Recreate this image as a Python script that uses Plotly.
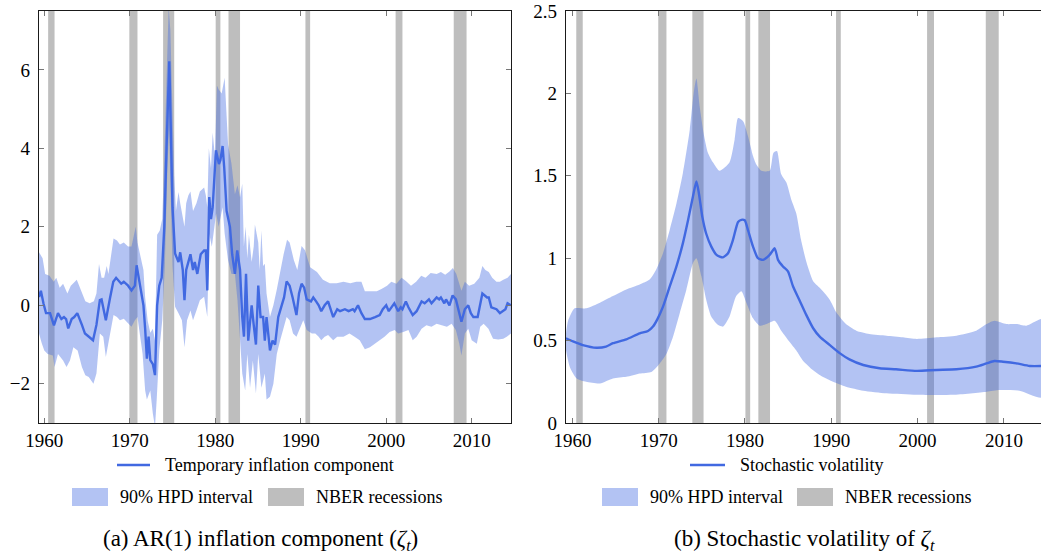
import plotly.graph_objects as go

# ---------------- data ----------------
REC_START = [1960.45, 1969.95, 1973.9, 1980.05, 1981.55, 1990.55, 2001.1, 2007.9]
REC_END = [1961.2, 1970.9, 1975.2, 1980.6, 1982.9, 1991.1, 2001.9, 2009.4]

# Panel (a): temporary inflation component (posterior median)
ZETA_X = [1959.38, 1959.6, 1959.9, 1960.2, 1960.67, 1961.13, 1961.6, 1962.0, 1962.3, 1962.55,
          1962.8, 1963.2, 1963.5, 1963.86, 1964.4, 1964.76, 1965.15, 1965.7, 1966.1, 1966.5,
          1966.7, 1967.2, 1967.7, 1968.07, 1968.4, 1968.85, 1969.0, 1969.3, 1969.8, 1970.2,
          1970.6, 1970.8, 1971.2, 1971.6, 1971.8, 1972.0, 1972.2, 1972.4, 1972.7, 1972.95,
          1973.2, 1973.45, 1973.73, 1974.04, 1974.3, 1974.62, 1974.8, 1975.0, 1975.3, 1975.7,
          1975.9, 1976.2, 1976.4, 1976.6, 1976.85, 1977.1, 1977.4, 1977.6, 1977.9, 1978.3,
          1978.7, 1978.9, 1979.07, 1979.3, 1979.5, 1979.7, 1980.08, 1980.43, 1980.6, 1980.86,
          1981.05, 1981.33, 1981.72, 1981.98, 1982.3, 1982.57, 1982.9, 1983.16, 1983.36, 1983.6,
          1983.86, 1984.05, 1984.26, 1984.5, 1984.76, 1985.03, 1985.3, 1985.6, 1985.8, 1986.0,
          1986.4, 1986.7, 1987.0, 1987.37, 1987.9, 1988.05, 1988.35, 1988.7, 1989.05, 1989.5,
          1989.8, 1990.1, 1990.4, 1990.7, 1991.2, 1991.47, 1991.8, 1992.1, 1992.4, 1992.8,
          1993.2, 1993.8, 1994.27, 1994.6, 1995.17, 1995.6, 1996.1, 1996.3, 1996.7, 1997.1,
          1997.5, 1998.1, 1998.7, 1999.24, 1999.6, 2000.0, 2000.3, 2000.6, 2000.95, 2001.4,
          2001.7, 2001.9, 2002.3, 2002.6, 2003.1, 2003.56, 2004.14, 2004.5, 2005.0, 2005.3,
          2005.9, 2006.2, 2006.4, 2006.8, 2007.0, 2007.4, 2007.77, 2008.15, 2008.5, 2008.8,
          2009.2, 2009.6, 2009.9, 2010.2, 2010.7, 2010.98, 2011.25, 2011.8, 2012.0, 2012.3,
          2012.9, 2013.3, 2013.6, 2013.95, 2014.2, 2014.6]
ZETA_Y = [0.21, 0.37, 0.05, -0.2, -0.2, -0.51, -0.2, -0.35, -0.3, -0.35,
          -0.59, -0.35, -0.3, -0.2, -0.5, -0.72, -0.79, -0.89, -0.5, 0.13,
          0.15, -0.38, 0.2, 0.6, 0.7, 0.6, 0.55, 0.6, 0.5, 0.38,
          0.5, 1.02, 0.5, 0.0, -0.6, -1.36, -0.8, -1.4, -1.5, -1.78,
          0.0, 0.5, 0.7, 2.0, 4.0, 6.22, 4.5, 2.5, 1.32, 1.1,
          1.35, 0.9, 0.13, 0.9, 1.1, 1.3, 0.9, 1.1, 0.8, 1.3,
          1.4, 1.4, 0.38, 2.76, 2.2, 2.5, 3.95, 3.6, 3.7, 4.06,
          3.5, 2.4, 2.0, 1.3, 0.8, 1.4, 0.9, -0.3, -0.8, 0.8,
          -0.9, -0.5, 0.0, -0.5, -1.0, 0.5, -0.3, -0.3, -0.9, -0.3,
          -1.15, -0.9, -1.0, -0.3, 0.1, 0.2, 0.61, 0.5, 0.2, -0.25,
          0.3, 0.55, 0.45, 0.15, 0.1, 0.2, 0.1, 0.0, -0.15, 0.0,
          0.1, -0.3, -0.1, -0.15, -0.1, -0.15, -0.1, -0.15, 0.0, -0.2,
          -0.35, -0.35, -0.3, -0.25, -0.1, 0.0, -0.15, -0.05, 0.05, -0.15,
          -0.05, -0.1, 0.1, -0.05, -0.25, -0.15, 0.1, 0.05, 0.15, 0.05,
          0.2, 0.15, 0.2, 0.05, 0.15, 0.0, 0.25, 0.15, -0.15, -0.42,
          -0.1, 0.0, -0.2, -0.3, -0.3, 0.0, 0.3, 0.2, 0.2, -0.05,
          -0.1, -0.2, -0.15, -0.1, 0.05, 0.0]

ZETA_HI_X = [1959.38, 1959.8, 1960.1, 1960.6, 1961.1, 1961.4, 1961.8, 1962.2, 1962.7, 1963.1,
             1963.8, 1964.3, 1964.8, 1965.3, 1965.8, 1966.1, 1966.4, 1966.7, 1967.0, 1967.3,
             1967.5, 1968.1, 1968.5, 1968.85, 1969.3, 1969.8, 1970.2, 1970.7, 1970.9, 1971.3,
             1971.6, 1971.8, 1972.1, 1972.4, 1972.7, 1972.95, 1973.2, 1973.5, 1973.8, 1974.0,
             1974.3, 1974.55, 1974.75, 1974.95, 1975.2, 1975.4, 1975.7, 1975.9, 1976.2, 1976.4,
             1976.6, 1976.85, 1977.1, 1977.4, 1977.8, 1978.2, 1978.7, 1978.9, 1979.07, 1979.25,
             1979.5, 1979.7, 1979.96, 1980.2, 1980.4, 1980.75, 1981.1, 1981.5, 1981.9, 1982.3,
             1982.6, 1982.9, 1983.16, 1983.35, 1983.55, 1983.75, 1983.94, 1984.26, 1984.5, 1984.64,
             1985.03, 1985.2, 1985.4, 1985.6, 1985.8, 1986.0, 1986.4, 1986.8, 1987.2, 1987.6,
             1988.0, 1988.4, 1988.7, 1989.2, 1989.6, 1990.1, 1990.5, 1991.1, 1991.9, 1992.6,
             1993.4, 1994.2, 1995.0, 1995.8, 1996.5, 1997.1, 1997.5, 1998.1, 1998.9, 1999.5,
             2000.1, 2000.6, 2001.2, 2001.8, 2002.3, 2002.9, 2003.5, 2004.1, 2004.6, 2005.2,
             2005.9, 2006.4, 2006.9, 2007.4, 2007.8, 2008.2, 2008.5, 2008.8, 2009.2, 2009.7,
             2010.3, 2010.9, 2011.25, 2011.6, 2012.0, 2012.4, 2012.9, 2013.3, 2013.7, 2014.2,
             2014.6]
ZETA_HI_Y = [1.35, 1.2, 0.8, 0.75, 0.6, 0.7, 0.45, 0.55, 0.3, 0.5,
             0.65, 0.35, 0.1, 0.05, 0.1, 0.3, 1.05, 0.7, 0.7, 1.0,
             0.8, 1.7, 1.65, 1.55, 1.6, 1.5, 1.5, 2.0, 1.6, 1.2,
             0.9, 0.2, -0.4, -0.7, -0.6, -0.9, 1.8, 1.9, 2.2, 3.5,
             5.5, 7.6, 7.0, 5.0, 3.3, 2.4, 2.89, 2.6, 2.2, 2.0,
             2.6, 2.8, 2.9, 2.4, 2.6, 2.9, 3.0, 2.8, 2.5, 4.0,
             3.5, 4.4, 3.8, 5.6, 5.5, 5.4, 5.8, 4.1, 3.6, 2.83,
             3.06, 2.75, 3.1, 1.5, 2.0, 1.2, 1.8, 1.1, 1.5, 2.06,
             1.6, 0.9, 1.9, 1.0, 1.06, 0.3, -0.3, 0.0, 0.4, 0.9,
             1.3, 1.67, 1.6, 1.15, 0.9, 1.51, 1.4, 0.97, 0.85, 0.65,
             0.56, 0.56, 0.6, 0.56, 0.6, 0.6, 0.36, 0.36, 0.36, 0.42,
             0.5, 0.6, 0.55, 0.7, 0.62, 0.5, 0.6, 0.75, 0.7, 0.82,
             0.8, 0.85, 0.78, 0.86, 0.95, 0.8, 0.6, 0.37, 0.6, 0.5,
             0.55, 0.7, 1.0, 0.9, 0.85, 0.7, 0.6, 0.6, 0.65, 0.7,
             0.8]

ZETA_LO_X = [1959.38, 1959.7, 1960.0, 1960.4, 1961.0, 1961.2, 1961.6, 1962.2, 1962.6, 1963.0,
             1963.4, 1963.9, 1964.4, 1964.8, 1965.2, 1965.75, 1966.1, 1966.5, 1966.9, 1967.2,
             1967.7, 1968.1, 1968.5, 1968.85, 1969.3, 1969.8, 1970.2, 1970.6, 1970.9, 1971.2,
             1971.5, 1971.8, 1972.0, 1972.4, 1972.7, 1972.95, 1973.15, 1973.45, 1973.8, 1974.1,
             1974.4, 1974.6, 1974.8, 1975.0, 1975.3, 1975.7, 1976.1, 1976.4, 1976.7, 1977.1,
             1977.4, 1977.8, 1978.2, 1978.7, 1979.07, 1979.3, 1979.6, 1980.1, 1980.4, 1980.86,
             1981.1, 1981.5, 1981.9, 1982.3, 1982.6, 1982.9, 1983.16, 1983.5, 1983.75, 1984.07,
             1984.4, 1984.76, 1985.03, 1985.4, 1985.8, 1986.0, 1986.4, 1986.8, 1987.2, 1987.6,
             1988.0, 1988.35, 1988.7, 1989.1, 1989.5, 1989.9, 1990.3, 1990.7, 1991.3, 1991.7,
             1992.1, 1992.4, 1992.8, 1993.2, 1993.8, 1994.27, 1995.0, 1995.7, 1996.3, 1996.9,
             1997.5, 1998.1, 1998.7, 1999.24, 1999.8, 2000.4, 2001.0, 2001.4, 2002.0, 2002.6,
             2003.1, 2003.56, 2004.14, 2004.7, 2005.3, 2005.9, 2006.5, 2007.1, 2007.65, 2008.15,
             2008.55, 2008.8, 2009.2, 2009.6, 2010.0, 2010.6, 2011.0, 2011.4, 2011.96, 2012.5,
             2013.1, 2013.7, 2014.1, 2014.6]
ZETA_LO_Y = [-0.72, -0.97, -1.15, -1.24, -1.28, -1.57, -1.24, -1.41, -1.57, -1.41,
             -1.07, -1.15, -1.57, -1.78, -1.83, -2.0, -1.74, -0.72, -0.8, -1.32,
             -0.72, -0.25, -0.3, -0.38, -0.34, -0.46, -0.55, -0.38, -0.3, -0.72,
             -1.24, -2.17, -2.4, -2.17, -2.76, -3.1, -2.4, -1.15, -0.38, 1.0,
             3.5, 4.5, 2.7, 1.0, -0.04, -0.2, -0.38, -1.07, -0.38, -0.13,
             -0.38, -0.13, 0.13, 0.22, -0.3, 1.83, 1.49, 2.34, 2.0, 2.5,
             1.83, 1.15, 0.8, 0.8, 0.13, -0.89, -1.74, -2.17, -1.24, -2.1,
             -1.41, -2.25, -1.24, -2.1, -1.74, -2.4, -2.33, -2.0, -1.24, -0.89,
             -0.55, -0.3, -0.38, -0.72, -0.8, -0.6, -0.38, -0.63, -0.72, -0.72,
             -0.8, -0.89, -0.8, -0.76, -0.89, -0.8, -0.8, -0.72, -0.8, -0.89,
             -1.12, -1.07, -0.98, -0.89, -0.8, -0.68, -0.63, -0.72, -0.68, -0.63,
             -0.89, -0.8, -0.6, -0.51, -0.55, -0.47, -0.51, -0.55, -0.47, -0.63,
             -0.98, -1.28, -0.72, -0.6, -0.89, -0.98, -0.55, -0.47, -0.6, -0.85,
             -0.87, -0.85, -0.8, -0.72]

# Panel (b): stochastic volatility of zeta
SV_X = [1959.26, 1960.07, 1961.2, 1962.8, 1963.9, 1964.7, 1966.25, 1967.8, 1968.76, 1969.34,
        1969.9, 1970.5, 1971.27, 1972.05, 1972.8, 1973.4, 1973.97, 1974.37, 1974.67, 1975.06,
        1975.5, 1976.1, 1976.7, 1977.45, 1978.03, 1978.6, 1979.2, 1979.58, 1979.97, 1980.35,
        1980.93, 1981.5, 1982.1, 1982.86, 1983.44, 1983.83, 1984.4, 1984.98, 1985.56, 1986.3,
        1987.1, 1987.9, 1988.66, 1989.8, 1990.97, 1992.1, 1993.7, 1995.6, 1997.5, 1999.9,
        2002.2, 2004.5, 2006.8, 2008.0, 2008.9, 2009.9, 2011.45, 2013.0, 2014.5]
SV_Y = [0.514, 0.495, 0.473, 0.457, 0.464, 0.484, 0.508, 0.544, 0.558, 0.585,
        0.635, 0.706, 0.827, 0.949, 1.09, 1.23, 1.374, 1.465, 1.39, 1.25,
        1.15, 1.07, 1.02, 1.005, 1.03, 1.11, 1.22, 1.233, 1.23, 1.17,
        1.07, 1.0, 0.99, 1.02, 1.06, 0.99, 0.95, 0.92, 0.83, 0.747,
        0.656, 0.575, 0.524, 0.474, 0.424, 0.386, 0.352, 0.332, 0.326, 0.316,
        0.322, 0.326, 0.342, 0.362, 0.376, 0.372, 0.362, 0.346, 0.346]

SV_HI_X = [1959.26, 1959.5, 1960.26, 1961.6, 1963.2, 1964.7, 1966.25, 1967.8, 1968.95, 1969.7,
           1970.5, 1971.27, 1972.05, 1972.8, 1973.6, 1974.05, 1974.37, 1974.75, 1975.2, 1975.7,
           1976.3, 1977.05, 1978.2, 1978.8, 1979.2, 1979.8, 1980.35, 1980.93, 1981.3, 1981.9,
           1982.86, 1983.3, 1983.7, 1984.2, 1984.8, 1985.4, 1985.95, 1986.5, 1987.1, 1987.9,
           1988.66, 1989.8, 1990.6, 1991.7, 1992.9, 1994.4, 1996.4, 1998.3, 1999.9, 2002.2,
           2004.5, 2006.8, 2008.0, 2008.9, 2010.3, 2011.45, 2012.6, 2014.5]
SV_HI_Y = [0.545, 0.62, 0.696, 0.696, 0.73, 0.77, 0.81, 0.84, 0.87, 0.93,
           1.03, 1.17, 1.33, 1.515, 1.78, 2.0, 2.09, 1.92, 1.76, 1.64,
           1.58, 1.53, 1.58, 1.72, 1.85, 1.83, 1.74, 1.62, 1.57, 1.53,
           1.53, 1.64, 1.65, 1.51, 1.46, 1.35, 1.27, 1.11, 0.98, 0.86,
           0.82, 0.75, 0.67, 0.6, 0.56, 0.54, 0.53, 0.52, 0.51, 0.52,
           0.53, 0.56, 0.6, 0.62, 0.6, 0.6, 0.59, 0.63]

SV_LO_X = [1959.26, 1959.7, 1960.5, 1961.6, 1963.2, 1964.7, 1966.25, 1967.8, 1969.15, 1970.1,
           1970.9, 1971.66, 1972.43, 1973.2, 1973.97, 1974.37, 1974.95, 1975.5, 1976.1, 1976.9,
           1977.45, 1978.2, 1978.98, 1979.58, 1980.16, 1980.93, 1981.7, 1982.5, 1983.44, 1984.2,
           1985.2, 1985.95, 1986.7, 1987.9, 1989.0, 1990.2, 1991.7, 1993.7, 1996.4, 1999.9,
           2004.1, 2008.0, 2009.5, 2011.8, 2014.5]
SV_LO_Y = [0.44, 0.34, 0.27, 0.25, 0.24, 0.27, 0.28, 0.3, 0.31, 0.36,
           0.42, 0.524, 0.665, 0.807, 0.97, 1.0, 0.89, 0.75, 0.645, 0.594,
           0.585, 0.645, 0.77, 0.8, 0.73, 0.635, 0.59, 0.6, 0.62, 0.56,
           0.49, 0.44, 0.38, 0.32, 0.28, 0.25, 0.22, 0.196, 0.18, 0.171,
           0.171, 0.19, 0.2, 0.196, 0.155]

X_TICKS = [1960, 1970, 1980, 1990, 2000, 2010]
Y_TICKS_A = [-2, 0, 2, 4, 6]
Y_TICKS_B = [0, 0.5, 1, 1.5, 2, 2.5]

# ---------------- styling ----------------
W, H = 1041, 556
FONT = "Liberation Serif, Times New Roman, Tinos, DejaVu Serif, serif"
BLUE = "rgb(65,105,225)"
BAND = "rgba(65,105,225,0.4)"
GRAY = "rgb(190,190,190)"


def px(x):
    return x / W


def py(y):
    return 1 - y / H


fig = go.Figure()

panels = [
    dict(xa="x", ya="y", xr=[1959.38, 2014.6], yr=[-3, 7.5],
         lx=ZETA_X, ly=ZETA_Y, hx=ZETA_HI_X, hy=ZETA_HI_Y, bx=ZETA_LO_X, by=ZETA_LO_Y,
         shape="linear"),
    dict(xa="x2", ya="y2", xr=[1959.26, 2014.3], yr=[0, 2.5],
         lx=SV_X, ly=SV_Y, hx=SV_HI_X, hy=SV_HI_Y, bx=SV_LO_X, by=SV_LO_Y,
         shape="spline"),
]

shapes = []
for p in panels:
    # NBER recession bands (below the traces)
    for s, e in zip(REC_START, REC_END):
        shapes.append(dict(type="rect", xref=p["xa"], yref=p["ya"] + " domain",
                           x0=s, x1=e, y0=0, y1=1, fillcolor=GRAY,
                           line=dict(width=0), layer="below"))
    # 90% HPD band
    fig.add_trace(go.Scatter(
        x=p["hx"] + p["bx"][::-1], y=p["hy"] + p["by"][::-1],
        xaxis=p["xa"], yaxis=p["ya"], mode="lines", fill="toself",
        fillcolor=BAND, line=dict(width=0, shape=p["shape"], smoothing=0.6),
        hoverinfo="skip", showlegend=False))
    # posterior median line
    fig.add_trace(go.Scatter(
        x=p["lx"], y=p["ly"], xaxis=p["xa"], yaxis=p["ya"], mode="lines",
        line=dict(color=BLUE, width=2.4, shape=p["shape"], smoothing=0.6),
        showlegend=False))

axis_common = dict(showgrid=False, zeroline=False, showline=True, linecolor="#1a1a1a",
                   linewidth=1.3, ticks="inside", ticklen=5, tickwidth=1, tickcolor="#777",
                   tickfont=dict(family=FONT, size=19, color="black"), automargin=False)

fig.update_layout(
    template="none",
    width=W, height=H, margin=dict(l=0, r=0, t=0, b=0, pad=0),
    paper_bgcolor="white", plot_bgcolor="white",
    font=dict(family=FONT, color="black"),
    xaxis=dict(domain=[px(39), px(511)], range=panels[0]["xr"], tickvals=X_TICKS,
               anchor="y", mirror="allticks", **axis_common),
    yaxis=dict(domain=[py(423), py(11)], range=panels[0]["yr"], tickvals=Y_TICKS_A,
               anchor="x", mirror="allticks", ticklabelstandoff=4, **axis_common),
    xaxis2=dict(domain=[px(566), 1.0], range=panels[1]["xr"], tickvals=X_TICKS,
                anchor="y2", mirror="allticks", **axis_common),
    yaxis2=dict(domain=[py(423), py(11)], range=panels[1]["yr"], tickvals=Y_TICKS_B,
                anchor="x2", ticklabelstandoff=4, **axis_common),
    yaxis3=dict(overlaying="y2", anchor="x2", side="right", range=panels[1]["yr"],
                tickvals=Y_TICKS_B, showticklabels=False, showgrid=False, zeroline=False,
                showline=False, ticks="inside", ticklen=5, tickwidth=1, tickcolor="#777",
                automargin=False),
    showlegend=False,
)

# ---------------- hand-drawn legends and captions ----------------
LEG_FONT = dict(family=FONT, size=18, color="black")
CAP_FONT = dict(family=FONT, size=23, color="black")

legends = [
    dict(line=(117, 150), line_text="Temporary inflation component",
         hpd=(72, 108), nber=(268, 304), caption="(a) AR(1) inflation component (<i>ζ<sub>t</sub></i>)",
         cap_x=260),
    dict(line=(690, 725), line_text="Stochastic volatility",
         hpd=(602, 638), nber=(797, 833), caption="(b) Stochastic volatility of <i>ζ<sub>t</sub></i>",
         cap_x=804),
]
annotations = []
for L in legends:
    x0, x1 = L["line"]
    shapes.append(dict(type="line", xref="paper", yref="paper", x0=px(x0), x1=px(x1),
                       y0=py(465), y1=py(465), line=dict(color=BLUE, width=2.4)))
    annotations.append(dict(text=L["line_text"], xref="paper", yref="paper", x=px(x1 + 13),
                            y=py(465), xanchor="left", yanchor="middle", showarrow=False,
                            font=LEG_FONT))
    for (a, b), col, label in [(L["hpd"], BAND, "90% HPD interval"),
                               (L["nber"], GRAY, "NBER recessions")]:
        shapes.append(dict(type="rect", xref="paper", yref="paper", x0=px(a), x1=px(b),
                           y0=py(506), y1=py(488), fillcolor=col, line=dict(width=0)))
        annotations.append(dict(text=label, xref="paper", yref="paper", x=px(b + 10),
                                y=py(497), xanchor="left", yanchor="middle", showarrow=False,
                                font=LEG_FONT))
    annotations.append(dict(text=L["caption"], xref="paper", yref="paper", x=px(L["cap_x"]),
                            y=py(540), xanchor="center", yanchor="middle", showarrow=False,
                            font=CAP_FONT))

fig.update_layout(shapes=shapes, annotations=annotations)
fig.write_html("out.html")
